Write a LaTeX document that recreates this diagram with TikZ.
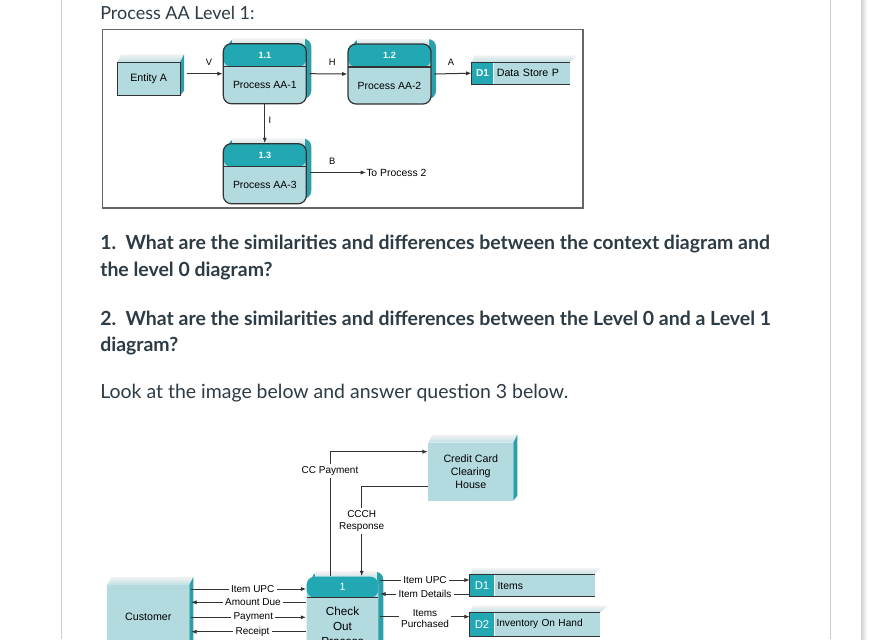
\documentclass[tikz,border=0pt]{standalone}
\usepackage{fontspec}
\setmainfont{Lato}
\newfontfamily\arialf{Liberation Sans}
\usetikzlibrary{arrows.meta}
\definecolor{lteal}{HTML}{B3DADF}
\definecolor{dteal}{HTML}{22A8B3}
\definecolor{steal}{HTML}{2C9FAA}
\definecolor{txt}{HTML}{2D3B45}
\definecolor{dline}{HTML}{333333}
\definecolor{cardline}{HTML}{C7CDD1}
\newcommand{\slabbox}[4]{%
  \shade[top color=gray!10, bottom color=lteal!85] (#1,#2) -- ({#1+4},{#2-8}) -- ({#3+4},{#2-8}) -- (#3,#2) -- cycle;
  \fill[steal] (#3,#2) -- ({#3+4},{#2-8}) -- ({#3+4},{#4-5}) -- (#3,#4) -- cycle;}
\newcommand{\procback}[4]{%
  \fill[steal, rounded corners=6pt] ({#1+5},{#2-5}) rectangle ({#3+5},{#4-5});
  \shade[top color=gray!10, bottom color=lteal] ({#1+9},{#2-5}) rectangle ({#3-2},{#2+4});}
\newcommand{\storeslab}[3]{%
  \shade[top color=gray!10, bottom color=lteal!85] (#1,#2) -- ({#1+3},{#2-7}) -- ({#3+8},{#2-7}) -- (#3,#2) -- cycle;}
\begin{document}
\begin{tikzpicture}[x=0.75pt,y=-0.75pt,
  font=\arialf,
  arr/.style={draw=dline, line width=0.75pt, -{Latex[length=4pt,width=3.2pt]}},
  ln/.style={draw=dline, line width=0.75pt},
  ent/.style={draw=dline, line width=0.8pt, fill=lteal, inner sep=0pt, font=\arialf\fontsize{8}{9.4}\selectfont, align=center},
  proc/.style={draw=dline, line width=0.9pt, fill=lteal, rounded corners=6pt, inner sep=0pt,
    path picture={\fill[dteal] (path picture bounding box.north west) rectangle ([yshift=-#1]path picture bounding box.north east);
      \draw[dline, line width=0.9pt] ([yshift=-#1]path picture bounding box.north west) -- ([yshift=-#1]path picture bounding box.north east);}},
  hdr/.style={text=white, font=\arialf\bfseries\fontsize{6.8}{7}\selectfont, inner sep=0pt},
  ptxt/.style={font=\arialf\fontsize{7.8}{9}\selectfont, inner sep=0pt},
  ids/.style={fill=dteal, text=white, inner sep=0pt},
  cellst/.style={fill=lteal, inner sep=0pt, anchor=west, align=left},
  lab/.style={font=\arialf\fontsize{7.5}{9}\selectfont, inner sep=1.6pt, align=center},
  para/.style={anchor=base west, inner sep=0pt, text=txt, font=\fontsize{14.6}{17}\selectfont},
  parab/.style={para, font=\bfseries\fontsize{14.6}{17}\selectfont}
]
\clip (0,0) rectangle (877,639);
\fill[white] (0,0) rectangle (877,639);
% card borders
\draw[cardline, line width=0.9pt] (61.5,0) -- (61.5,639);
\draw[cardline, line width=0.9pt] (830.5,0) -- (830.5,639);
\shade[left color=gray!35, right color=white] (861,0) rectangle (867,639);

% texts
\node[para, font=\fontsize{13.5}{16}\selectfont] (head) at (100,19) {Process AA Level 1:};
\node[parab] (q1a) at (100,249.5) {1.\ \ What are the similarities and differences between the context diagram and};
\node[parab] (q1b) at (100,276.5) {the level 0 diagram?};
\node[parab] (q2a) at (100,325.5) {2.\ \ What are the similarities and differences between the Level 0 and a Level 1};
\node[parab] (q2b) at (100,351.5) {diagram?};
\node[para] (look) at (100,398.5) {Look at the image below and answer question 3 below.};

% ---------- top diagram ----------
\draw[draw=gray!80!black, line width=1pt] (102.5,29.5) rectangle (583,208);
\slabbox{117.3}{62.3}{180}{95.7}
\node[ent, minimum width=62.7*0.75pt, minimum height=33.4*0.75pt] (ea) at (148.7,79) {Entity A};
\procback{223.3}{43.7}{306.3}{103.7}
\procback{348}{44}{431}{104}
\procback{223.3}{143.7}{306.3}{203.7}
\node[proc=17.25pt, minimum width=83*0.75pt, minimum height=60*0.75pt] (p11) at (264.8,73.7) {};
\node[proc=17.25pt, minimum width=83*0.75pt, minimum height=60*0.75pt] (p12) at (389.5,74) {};
\node[proc=17.25pt, minimum width=83*0.75pt, minimum height=60*0.75pt] (p13) at (264.8,173.7) {};
\node[hdr] (h11) at (264.8,55.5) {1.1};
\node[hdr] (h12) at (389.5,55.8) {1.2};
\node[hdr] (h13) at (264.8,155.5) {1.3};
\node[ptxt] (b11) at (264.8,85.2) {Process AA-1};
\node[ptxt] (b12) at (389.5,85.5) {Process AA-2};
\node[ptxt] (b13) at (264.8,185.2) {Process AA-3};
% data store
\storeslab{471.7}{62.3}{569.3}
\node[ids, font=\arialf\bfseries\fontsize{7.6}{9}\selectfont, minimum width=21.6*0.75pt, minimum height=21.7*0.75pt] (ds1) at (482.5,73.2) {D1};
\node[cellst, font=\arialf\fontsize{8}{9}\selectfont, minimum height=21.7*0.75pt, text width=70*0.75pt, inner xsep=3*0.75pt] (dsp) at (ds1.east) {Data Store P};
\draw[ln] (dsp.north east) -- (ds1.north west) -- (ds1.south west) -- (dsp.south east);
% arrows
\draw[arr] ([xshift=4.5pt]ea.east |- p11.west) -- (p11.west);
\draw[arr] ([xshift=2pt]p11.east) -- (p12.west);
\draw[arr] ([xshift=2pt]p12.east) -- (ds1.west);
\draw[arr] (p11.south) -- (p13.north);
\node[ptxt, anchor=west] (tp2) at (366,172.5) {To Process 2};
\draw[arr] ([xshift=2pt]p13.east |- tp2.west) -- (tp2.west);
\node[ptxt, font=\arialf\fontsize{7}{8}\selectfont] (lv) at (209,62) {V};
\node[ptxt, font=\arialf\fontsize{7}{8}\selectfont] (lh) at (332.3,62) {H};
\node[ptxt, font=\arialf\fontsize{7}{8}\selectfont] (la) at (451,62) {A};
\node[ptxt, font=\arialf\fontsize{7}{8}\selectfont] (li) at (270,120) {I};
\node[ptxt, font=\arialf\fontsize{7}{8}\selectfont] (lb) at (332.3,161.7) {B};

% ---------- bottom diagram ----------
\slabbox{428.3}{442.7}{513.3}{500.7}
\node[ent, minimum width=85*0.75pt, minimum height=58*0.75pt, draw=none] (cc) at (470.8,471.7) {Credit Card\\Clearing\\House};
\slabbox{107.3}{585}{189.3}{700}
\node[ent, minimum width=82*0.75pt, minimum height=64*0.75pt, draw=none] (cu) at (148.3,617) {Customer};
\procback{306.7}{576.7}{378.3}{700}
\node[proc=15.75pt, draw=none, minimum width=71.6*0.75pt, minimum height=100*0.75pt, align=center, font=\arialf\fontsize{8.8}{11.25}\selectfont] (p1) at (342.5,626.7) {Check\\Out\\Process};
\node[hdr, font=\arialf\fontsize{8}{9}\selectfont] (h1) at (342.5,587) {1};
% stores
\storeslab{470}{575}{592.7}
\node[ids, font=\arialf\fontsize{8.5}{9}\selectfont, minimum width=24*0.75pt, minimum height=21.7*0.75pt] (d1) at (482,585.85) {D1};
\node[cellst, font=\arialf\fontsize{7.8}{9}\selectfont, minimum height=21.7*0.75pt, text width=94*0.75pt, inner xsep=3*0.75pt] (d1c) at (d1.east) {Items};
\draw[ln] (d1c.north east) -- (d1.north west) -- (d1.south west) -- (d1c.south east);
\storeslab{470}{612.7}{600}
\node[ids, font=\arialf\fontsize{8.5}{9}\selectfont, minimum width=24*0.75pt, minimum height=23.3*0.75pt] (d2) at (482,624.35) {D2};
\node[cellst, font=\arialf\fontsize{7.6}{9}\selectfont, minimum height=23.3*0.75pt, text width=101*0.75pt, inner xsep=2*0.75pt] (d2c) at (d2.east) {Inventory On Hand};
\draw[ln] (d2c.north east) -- (d2.north west) -- (d2.south west) -- (d2c.south east);
% labels
\node[lab] (l8) at (330,471) {CC Payment};
\node[lab] (l9) at (361.7,521) {CCCH\\Response};
\node[lab] (l1) at (252.7,589) {Item UPC};
\node[lab] (l2) at (253,602.3) {Amount Due};
\node[lab] (l3) at (253.3,617.3) {Payment};
\node[lab] (l4) at (252.5,631.7) {Receipt};
\node[lab] (l5) at (425,580) {Item UPC};
\node[lab] (l6) at (425,594) {Item Details};
\node[lab, font=\arialf\fontsize{7.5}{8.7}\selectfont] (l7) at (425,618.5) {Items\\Purchased};
% connectors
\draw[ln] (p1.north -| l8) -- (l8.south);
\draw[arr] (l8.north) |- (cc.west |- 0,451.7);
\draw[ln] (cc.west |- 0,486.7) -| (l9.north);
\draw[arr] (l9.south) -- (p1.north -| l9);
\draw[ln] ([xshift=1pt]cu.east |- l1) -- (l1.west);
\draw[arr] (l1.east) -- (p1.west |- l1);
\draw[ln] (p1.west |- l2) -- (l2.east);
\draw[arr] (l2.west) -- ([xshift=1pt]cu.east |- l2);
\draw[ln] ([xshift=1pt]cu.east |- l3) -- (l3.west);
\draw[arr] (l3.east) -- (p1.west |- l3);
\draw[ln] (p1.west |- l4) -- (l4.east);
\draw[arr] (l4.west) -- ([xshift=1pt]cu.east |- l4);
\draw[ln] ([xshift=1pt]p1.east |- l5) -- (l5.west);
\draw[arr] (l5.east) -- (d1.west |- l5);
\draw[ln] (d1.west |- l6) -- (l6.east);
\draw[arr] (l6.west) -- ([xshift=1pt]p1.east |- l6);
\draw[ln] ([xshift=1pt]p1.east |- 0,616.7) -- (l7.west |- 0,616.7);
\draw[arr] (l7.east |- 0,616.7) -- (d2.west |- 0,616.7);
\end{tikzpicture}
\end{document}
